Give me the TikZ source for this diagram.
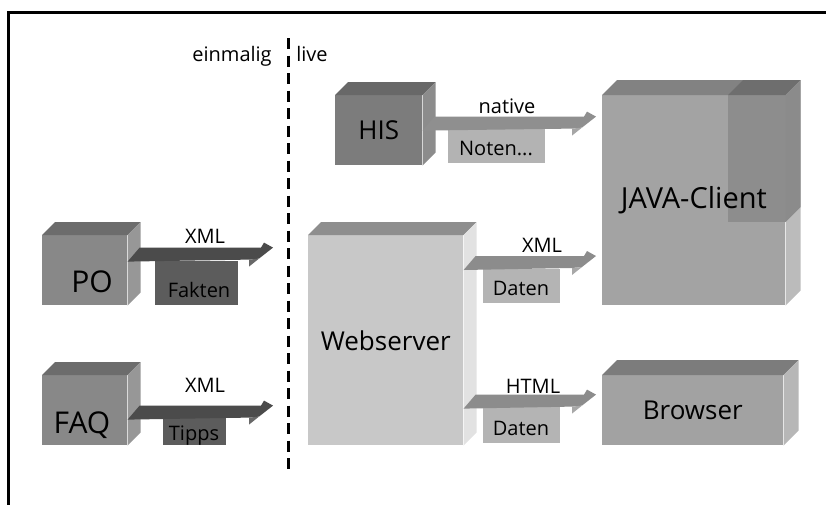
\documentclass[tikz,border=0pt]{standalone}
\usepackage{fontspec}
\setmainfont{Open Sans}
\usepackage{tikz}
\usetikzlibrary{calc, positioning}

\newcommand{\grossfont}{\fontsize{26}{30}\selectfont}
\newcommand{\riesenfont}{\fontsize{30}{34}\selectfont}
\newcommand{\kleinfont}{\fontsize{20}{24}\selectfont}

\definecolor{poFront}{HTML}{888888}
\definecolor{poTop}{HTML}{6C6C6C}
\definecolor{poSide}{HTML}{979797}
\definecolor{poBand}{HTML}{4B4B4B}
\definecolor{poKasten}{HTML}{5C5C5C}
\definecolor{poKopf}{HTML}{686868}
\definecolor{hisFront}{HTML}{7C7C7C}
\definecolor{hisTop}{HTML}{686868}
\definecolor{hisSide}{HTML}{8C8C8C}
\definecolor{hisBand}{HTML}{8F8F8F}
\definecolor{hisKasten}{HTML}{B3B3B3}
\definecolor{hisKopf}{HTML}{A6A6A6}
\definecolor{wsFront}{HTML}{C8C8C8}
\definecolor{wsTop}{HTML}{8E8E8E}
\definecolor{wsSide}{HTML}{E2E2E2}
\definecolor{wsBand}{HTML}{8C8C8C}
\definecolor{wsKasten}{HTML}{B4B4B4}
\definecolor{wsKopf}{HTML}{A8A8A8}
\definecolor{jcFront}{HTML}{A3A3A3}
\definecolor{jcTop}{HTML}{828282}
\definecolor{jcSide}{HTML}{BBBBBB}
\definecolor{jcDunkel}{HTML}{8D8D8D}
\definecolor{jcDunkelTop}{HTML}{6E6E6E}
\definecolor{jcDunkelSide}{HTML}{8B8B8B}
\definecolor{brFront}{HTML}{A2A2A2}
\definecolor{brTop}{HTML}{7C7C7C}
\definecolor{brSide}{HTML}{B7B7B7}

% top and side face of a box, drawn at its front node
\newcommand{\faces}[4]{%
    \fill[#3] (#1.north west) -- ++(#2pt,#2pt) -- ($(#1.north east)+(#2pt,#2pt)$) -- (#1.north east) -- cycle;
    \fill[#4] (#1.north east) -- ++(#2pt,#2pt) -- ($(#1.south east)+(#2pt,#2pt)$) -- (#1.south east) -- cycle;
}

% flat arrow: start, tip, band colour, head colour
\newcommand{\pfeil}[4]{%
    \fill[#3] let \p1=#1, \p2=#2 in (\x1,\y1) -- (\x1+12pt,\y1+14pt) -- (\x2-12pt,\y1+14pt) -- (\x2-9pt,\y1+19pt)
        -- (\x2,\y1+14pt) -- (\x2-14pt,\y1+3pt) -- (\x2-24pt,\y1+2pt) -- cycle;
    \fill[#4] let \p1=#1, \p2=#2 in (\x2-24pt,\y1+2pt) -- (\x2-14pt,\y1+3pt) -- (\x2-24pt,\y1-5pt) -- cycle;
}

\begin{document}
\begin{tikzpicture}[
            x=1pt,
            y=-1pt,
            semithick
        ]
        \tikzstyle{quader}=[anchor=north west, inner sep=0pt, font=\grossfont, text=black]
        \tikzstyle{kasten}=[anchor=north west, inner sep=0pt]
        \tikzstyle{etikett}=[anchor=base, inner sep=0pt, font=\kleinfont, text=black]
        \tikzstyle{trenn}=[line width=3pt, dash pattern=on 11pt off 6.5pt]

        \useasboundingbox (0,0) rectangle (826,504);
        \clip (0,0) rectangle (826,504);
        \draw[line width=2.5pt] (8.5,12.5) rectangle (900,600);

        % einmalig | live
        \coordinate (TO) at (288,38);
        \coordinate (TU) at (288,472);
        \draw[trenn] (TO) -- (TU);
        \node[etikett, anchor=base east] (EM) at (272,61) {einmalig};
        \node[etikett, anchor=base west] (LV) at (296,61) {live};

        % boxes
        \node[quader, fill=poFront, minimum width=85pt, minimum height=70pt] (PO) at (42,235) {};
        \faces{PO}{13}{poTop}{poSide}
        \node[etikett, font=\riesenfont] (POT) at (92,292) {PO};

        \node[quader, fill=poFront, minimum width=85pt, minimum height=70pt] (FAQ) at (42,375) {};
        \faces{FAQ}{13}{poTop}{poSide}
        \node[etikett, font=\riesenfont] (FAQT) at (82,433) {FAQ};

        \node[quader, fill=hisFront, minimum width=87pt, minimum height=70pt] (HIS) at (335,95) {HIS};
        \faces{HIS}{13}{hisTop}{hisSide}

        \node[quader, fill=wsFront, minimum width=155pt, minimum height=210pt] (WS) at (308,235) {Webserver};
        \faces{WS}{13}{wsTop}{wsSide}

        \node[quader, fill=jcFront, minimum width=183pt, minimum height=210pt] (JC) at (602,95) {};
        \faces{JC}{15}{jcTop}{jcSide}
        \coordinate (JD) at (728,222);
        \fill[jcDunkel] (JD) rectangle (JC.north east);
        \fill[jcDunkelTop] (JD |- JC.north) -- ++(15pt,15pt) -- ($(JC.north east)+(15pt,15pt)$) -- (JC.north east) -- cycle;
        \fill[jcDunkelSide] (JC.north east) -- ++(15pt,15pt) -- ++(0,127) -- (JD -| JC.east) -- cycle;
        \node[font=\fontsize{29}{33}\selectfont] (JCT) at (JC.center) {JAVA-Client};

        \node[quader, fill=brFront, minimum width=181pt, minimum height=70pt] (BR) at (602,375) {Browser};
        \faces{BR}{15}{brTop}{brSide}

        % data under the arrows
        \node[kasten, fill=poKasten, minimum width=83pt, minimum height=44pt] (K1) at (155,261) {};
        \node[etikett] (K1T) at (199,297) {Fakten};
        \node[kasten, fill=poKasten, minimum width=63pt, minimum height=27pt] (K2) at (163,418) {};
        \node[etikett] (K2T) at (194,440) {Tipps};
        \node[kasten, fill=hisKasten, minimum width=97pt, minimum height=34pt] (K3) at (448,129) {};
        \node[etikett] (K3T) at (496,155) {Noten...};
        \node[kasten, fill=wsKasten, minimum width=77pt, minimum height=34pt] (K4) at (483,269) {};
        \node[etikett] (K4T) at (521,295) {Daten};
        \node[kasten, fill=wsKasten, minimum width=77pt, minimum height=36pt] (K5) at (483,407) {};
        \node[etikett] (K5T) at (521,435) {Daten};

        % arrows
        \pfeil{($(PO.south east)+(0,-44)$)}{($(TO)+(-15,0)$)}{poBand}{poKopf}
        \pfeil{($(FAQ.south east)+(0,-26)$)}{($(TO)+(-15,0)$)}{poBand}{poKopf}
        \pfeil{($(HIS.south east)+(0,-35)$)}{($(JC.west)+(-6,0)$)}{hisBand}{hisKopf}
        \pfeil{($(WS.north east)+(0,35)$)}{($(JC.west)+(-6,0)$)}{wsBand}{wsKopf}
        \pfeil{($(WS.south east)+(0,-37)$)}{($(BR.west)+(-6,0)$)}{wsBand}{wsKopf}

        \node[etikett] (L1) at (205,243) {XML};
        \node[etikett] (L2) at (205,392) {XML};
        \node[etikett] (L3) at (507,113) {native};
        \node[etikett] (L4) at (542,252) {XML};
        \node[etikett] (L5) at (533,393) {HTML};
    \end{tikzpicture}
\end{document}
